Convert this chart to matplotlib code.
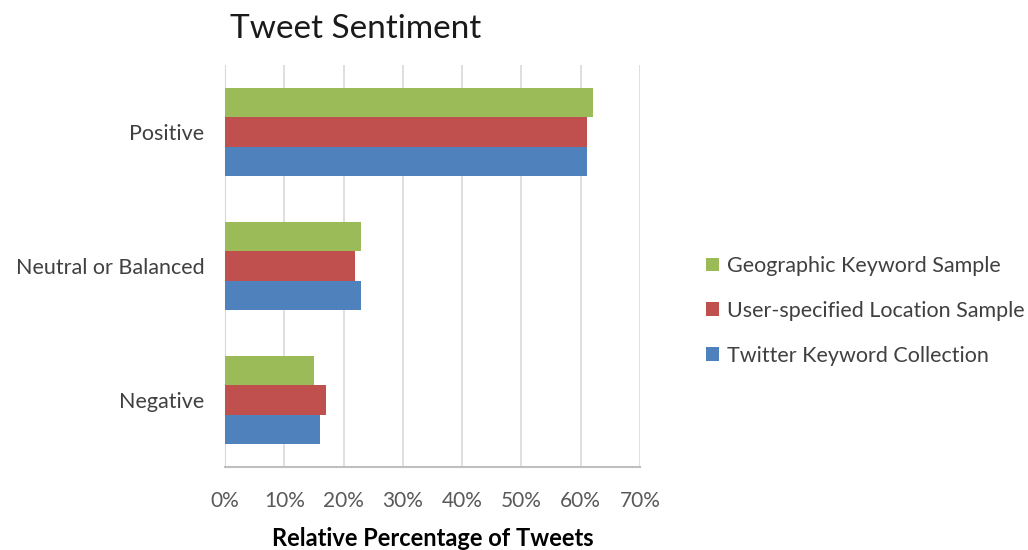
import numpy as np
import matplotlib.pyplot as plt

# Sentiment share per sample (percent of tweets)
categories = ["Negative", "Neutral or Balanced", "Positive"]
series_names = ["Twitter Keyword Collection",
                "User-specified Location Sample",
                "Geographic Keyword Sample"]
twitter_keyword = [16, 23, 61]
user_location = [17, 22, 61]
geographic_keyword = [15, 23, 62]
xticks = [0, 10, 20, 30, 40, 50, 60, 70]

colors = ["#4F81BD", "#C0504D", "#9BBB59"]

plt.rcParams['font.family'] = ['Lato', 'DejaVu Sans']

fig = plt.figure(figsize=(10.28, 5.5), dpi=100)
ax = fig.add_axes([0.2189, 0.1509, 0.4037, 0.7309])

y = np.arange(len(categories))
h = 0.22
handles = []
for i, (vals, name) in enumerate(zip([twitter_keyword, user_location, geographic_keyword], series_names)):
    b = ax.barh(y + (i - 1) * h, vals, height=h, color=colors[i], label=name, zorder=3)
    handles.append(b)

ax.set_xlim(0, 70)
ax.set_ylim(-0.5, 2.5)
ax.set_xticks(xticks)
ax.set_xticklabels([f"{t}%" for t in xticks], color="#595959", fontsize=15)
ax.set_yticks(y)
ax.set_yticklabels(categories, color="#404040", fontsize=15.5)
ax.tick_params(axis='both', length=0)
ax.tick_params(axis='x', pad=17)
ax.tick_params(axis='y', pad=15)

ax.grid(axis='x', color="#D9D9D9", linewidth=1.2, zorder=0)
for s in ['top', 'right']:
    ax.spines[s].set_visible(False)
ax.spines['left'].set_color("#D9D9D9")
ax.spines['bottom'].set_color("#BFBFBF")
ax.spines['bottom'].set_linewidth(1.5)

ax.set_xlabel("Relative Percentage of Tweets", fontsize=17, fontweight='bold', labelpad=12)
fig.text(0.224, 0.948, "Tweet Sentiment", fontsize=24, color="#1a1a1a", va='center')

leg = fig.legend(handles[::-1], series_names[::-1], loc='center left',
                 bbox_to_anchor=(0.668, 0.435), frameon=False, fontsize=15.5,
                 handlelength=0.6, handleheight=0.6, handletextpad=0.35,
                 labelspacing=1.15)
for t in leg.get_texts():
    t.set_color("#404040")

fig.savefig("out.png", dpi=100)
